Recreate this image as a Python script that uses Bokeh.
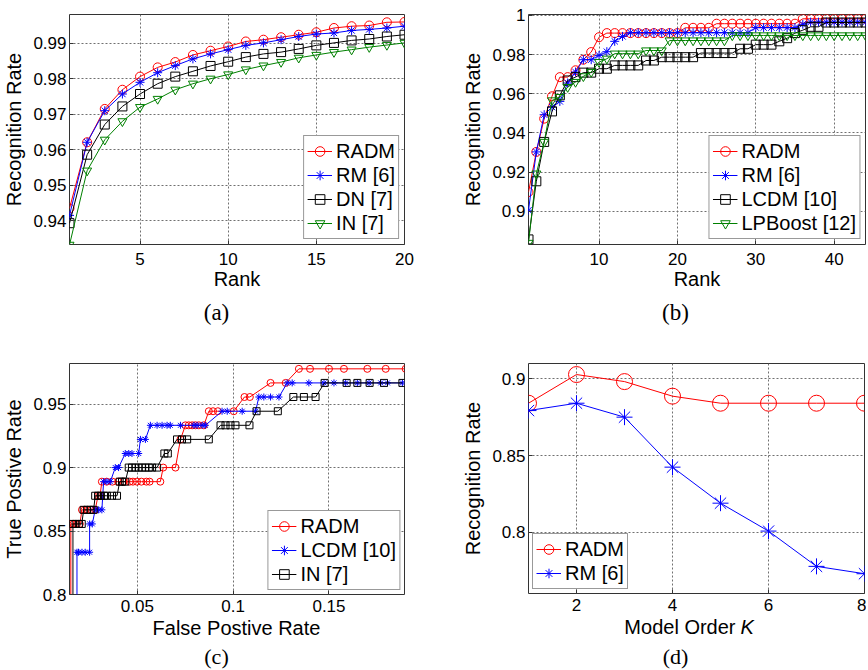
from bokeh.plotting import figure
from bokeh.layouts import column, row
from bokeh.models import Range1d, FixedTicker, CustomJSTickFormatter, Label
from bokeh.embed import file_html
from bokeh.resources import INLINE

FONT = "Liberation Sans"
SERIF = "Liberation Serif"
RED, BLUE, BLACK, GREEN = "#ff0000", "#0000ff", "#000000", "#008000"

# ---------------- (a) data ----------------
a_rank = [1, 2, 3, 4, 5, 6, 7, 8, 9, 10, 11, 12, 13, 14, 15, 16, 17, 18, 19, 20]
a_radm = [0.9435, 0.9621, 0.9715, 0.9769, 0.9806, 0.9832, 0.9847, 0.9867, 0.9879, 0.9891,
          0.9905, 0.9910, 0.9917, 0.9924, 0.9931, 0.9943, 0.9948, 0.9950, 0.9959, 0.9960]
a_rm = [0.9415, 0.9621, 0.9710, 0.9757, 0.9790, 0.9817, 0.9837, 0.9856, 0.9870, 0.9882,
        0.9894, 0.9901, 0.9910, 0.9919, 0.9926, 0.9929, 0.9936, 0.9939, 0.9943, 0.9948]
a_dn = [0.9393, 0.9586, 0.9671, 0.9722, 0.9757, 0.9786, 0.9806, 0.9821, 0.9836, 0.9848,
        0.9861, 0.9870, 0.9875, 0.9884, 0.9894, 0.9901, 0.9908, 0.9912, 0.9919, 0.9924]
a_in = [0.9332, 0.9541, 0.9628, 0.9680, 0.9720, 0.9743, 0.9769, 0.9786, 0.9800, 0.9812,
        0.9826, 0.9837, 0.9847, 0.9859, 0.9867, 0.9875, 0.9882, 0.9889, 0.9895, 0.9901]
a_xticks = [5, 10, 15, 20]
a_xlabels = ["5", "10", "15", "20"]
a_yticks = [0.94, 0.95, 0.96, 0.97, 0.98, 0.99]
a_ylabels = ["0.94", "0.95", "0.96", "0.97", "0.98", "0.99"]

# ---------------- (b) data ----------------
b_rank = list(range(1, 45))
b_radm = [0.9098, 0.9303, 0.9473, 0.9587, 0.9685, 0.9685, 0.9720, 0.9774, 0.9813, 0.9889,
          0.9910, 0.9910, 0.9910, 0.9910, 0.9910, 0.9910, 0.9910, 0.9910, 0.9910, 0.9910,
          0.9937, 0.9937, 0.9937, 0.9937,
          0.9958, 0.9958, 0.9958, 0.9958, 0.9958, 0.9958, 0.9958, 0.9958, 0.9958, 0.9958, 0.9958,
          0.9983, 0.9983, 0.9983, 0.9983, 0.9983, 0.9983, 0.9983, 0.9983, 0.9983]
b_rm = [0.9005, 0.9303, 0.9493, 0.9532, 0.9561, 0.9655, 0.9711, 0.9774, 0.9774, 0.9796,
        0.9815, 0.9868, 0.9893,
        0.9912, 0.9912, 0.9912, 0.9912, 0.9912, 0.9912, 0.9912, 0.9912, 0.9912, 0.9912,
        0.9912, 0.9912, 0.9912, 0.9912, 0.9912, 0.9912,
        0.9938, 0.9938, 0.9938, 0.9938, 0.9938, 0.9938,
        0.9955,
        0.9966, 0.9966, 0.9966, 0.9966, 0.9966, 0.9966, 0.9966, 0.9966]
b_lcdm = [0.8856, 0.9153, 0.9354, 0.9510, 0.9592, 0.9668, 0.9685, 0.9708, 0.9708, 0.9728,
          0.9728, 0.9745, 0.9745, 0.9745, 0.9745, 0.9770, 0.9770, 0.9787, 0.9787, 0.9787,
          0.9787, 0.9787, 0.9808, 0.9808, 0.9808, 0.9808, 0.9808, 0.9830, 0.9830, 0.9851,
          0.9851, 0.9851, 0.9868, 0.9884, 0.9910, 0.9925, 0.9942, 0.9942,
          0.9964, 0.9964, 0.9964, 0.9964, 0.9964, 0.9964]
b_lpb = [0.8838, 0.9192, 0.9354, 0.9566, 0.9583, 0.9634, 0.9660, 0.9689, 0.9711, 0.9762,
         0.9779, 0.9805, 0.9805, 0.9805, 0.9805, 0.9821, 0.9821, 0.9821,
         0.9872, 0.9872, 0.9872, 0.9872, 0.9872, 0.9872, 0.9872, 0.9872,
         0.9898, 0.9898, 0.9898, 0.9898, 0.9898, 0.9898, 0.9898, 0.9898, 0.9898,
         0.9898, 0.9898, 0.9898, 0.9898, 0.9898, 0.9898, 0.9898, 0.9898, 0.9898]
b_xticks = [10, 20, 30, 40]
b_xlabels = ["10", "20", "30", "40"]
b_yticks = [0.9, 0.92, 0.94, 0.96, 0.98, 1.0]
b_ylabels = ["0.9", "0.92", "0.94", "0.96", "0.98", "1"]

# ---------------- (c) data ----------------
c_radm_fpr = [0.0153, 0.0153, 0.0167, 0.0185, 0.0200, 0.0211, 0.0225, 0.0240, 0.0260, 0.0280,
              0.0295, 0.0305, 0.0315, 0.0340, 0.0370, 0.0400, 0.0430, 0.0460, 0.0477, 0.0498,
              0.0521, 0.0547, 0.0564, 0.0620, 0.0635, 0.0699, 0.0725, 0.0751, 0.0768, 0.0786,
              0.0803, 0.0821, 0.0847, 0.0873, 0.0895, 0.0920, 0.1003, 0.1059, 0.1087, 0.1195,
              0.1274, 0.1343, 0.1401, 0.1500, 0.1578, 0.1700, 0.1796, 0.1900]
c_radm_tpr = [0.7556, 0.8556, 0.8556, 0.8556, 0.8556, 0.8667, 0.8667, 0.8667, 0.8667, 0.8667,
              0.8778, 0.8778, 0.8889, 0.8889, 0.8889, 0.8889, 0.8889, 0.8889, 0.8889, 0.8889,
              0.8889, 0.8889, 0.8889, 0.8889, 0.9000, 0.9000, 0.9222, 0.9333, 0.9333, 0.9333,
              0.9333, 0.9333, 0.9333, 0.9444, 0.9444, 0.9444, 0.9444, 0.9556, 0.9556, 0.9667,
              0.9667, 0.9778, 0.9778, 0.9778, 0.9778, 0.9778, 0.9778, 0.9778]
c_lcdm_fpr = [0.0185, 0.0185, 0.0193, 0.0211, 0.0228, 0.0251, 0.0251, 0.0265, 0.0280, 0.0298,
              0.0315, 0.0324, 0.0341, 0.0359, 0.0385, 0.0402, 0.0437, 0.0455, 0.0472, 0.0507,
              0.0516, 0.0542, 0.0568, 0.0603, 0.0629, 0.0655, 0.0672, 0.0725, 0.0795, 0.0812,
              0.0838, 0.0855, 0.0942, 0.0969, 0.1047, 0.1117, 0.1134, 0.1160, 0.1195, 0.1239,
              0.1282, 0.1308, 0.1395, 0.1474, 0.1526, 0.1587, 0.1648, 0.1709, 0.1770, 0.1805,
              0.1883]
c_lcdm_tpr = [0.7556, 0.8333, 0.8333, 0.8333, 0.8333, 0.8333, 0.8556, 0.8556, 0.8667, 0.8667,
              0.8667, 0.8889, 0.8889, 0.8889, 0.9000, 0.9000, 0.9111, 0.9111, 0.9111, 0.9111,
              0.9222, 0.9222, 0.9333, 0.9333, 0.9333, 0.9333, 0.9333, 0.9333, 0.9333, 0.9333,
              0.9333, 0.9333, 0.9444, 0.9444, 0.9444, 0.9444, 0.9556, 0.9556, 0.9556, 0.9556,
              0.9667, 0.9667, 0.9667, 0.9667, 0.9667, 0.9667, 0.9667, 0.9667, 0.9667, 0.9667,
              0.9667]
c_in_fpr = [0.0164, 0.0164, 0.0178, 0.0195, 0.0210, 0.0220, 0.0238, 0.0256, 0.0272, 0.0280,
            0.0295, 0.0310, 0.0326, 0.0341, 0.0368, 0.0394, 0.0408, 0.0420, 0.0437, 0.0455,
            0.0472, 0.0490, 0.0507, 0.0525, 0.0542, 0.0560, 0.0577, 0.0603, 0.0641, 0.0659,
            0.0707, 0.0733, 0.0760, 0.0873, 0.0934, 0.0960, 0.0986, 0.1012, 0.1085, 0.1122,
            0.1233, 0.1314, 0.1369, 0.1430, 0.1477, 0.1592, 0.1648, 0.1712, 0.1787, 0.1883]
c_in_tpr = [0.7556, 0.8556, 0.8556, 0.8556, 0.8556, 0.8667, 0.8667, 0.8667, 0.8667, 0.8778,
            0.8778, 0.8778, 0.8778, 0.8778, 0.8778, 0.8778, 0.8889, 0.8889, 0.8889, 0.9000,
            0.9000, 0.9000, 0.9000, 0.9000, 0.9000, 0.9000, 0.9000, 0.9000, 0.9111, 0.9111,
            0.9222, 0.9222, 0.9222, 0.9222, 0.9333, 0.9333, 0.9333, 0.9333, 0.9333, 0.9444,
            0.9444, 0.9556, 0.9556, 0.9556, 0.9667, 0.9667, 0.9667, 0.9667, 0.9667, 0.9667]
c_xticks = [0.05, 0.1, 0.15]
c_xlabels = ["0.05", "0.1", "0.15"]
c_yticks = [0.8, 0.85, 0.9, 0.95]
c_ylabels = ["0.8", "0.85", "0.9", "0.95"]

# ---------------- (d) data ----------------
d_k = [1, 2, 3, 4, 5, 6, 7, 8]
d_radm = [0.8841, 0.9028, 0.8982, 0.8887, 0.8841, 0.8841, 0.8841, 0.8841]
d_rm = [0.8793, 0.8841, 0.8750, 0.8424, 0.8189, 0.8007, 0.7777, 0.7729]
d_xticks = [2, 4, 6, 8]
d_xlabels = ["2", "4", "6", "8"]
d_yticks = [0.8, 0.85, 0.9]
d_ylabels = ["0.8", "0.85", "0.9"]

captions_top = ["(a)", "(b)"]
captions_bottom = ["(c)", "(d)"]
c_xtitle = "False Postive Rate"
d_xtitle = "Model Order"
d_xtitle_var = "K"

FMT = ("for (let i = 0; i < t.length; i++) { if (Math.abs(t[i] - tick) < 1e-9) return l[i]; }"
       " return '';")

TOTAL_W = 866


def make_fig(fw, fh, bl, br, bt, bb, xr, yr, xt, xl, yt, yl, xlabel, ylabel, xstand):
    p = figure(frame_width=fw, frame_height=fh, min_border_left=bl, min_border_right=br,
               min_border_top=bt, min_border_bottom=bb, x_range=Range1d(*xr),
               y_range=Range1d(*yr), output_backend="svg", toolbar_location=None, tools="")
    p.xaxis.ticker = FixedTicker(ticks=xt)
    p.yaxis.ticker = FixedTicker(ticks=yt)
    p.xaxis.formatter = CustomJSTickFormatter(args=dict(t=xt, l=xl), code=FMT)
    p.yaxis.formatter = CustomJSTickFormatter(args=dict(t=yt, l=yl), code=FMT)
    p.xaxis.axis_label = xlabel
    p.yaxis.axis_label = ylabel
    for ax in (p.xaxis[0], p.yaxis[0]):
        ax.major_label_text_font = FONT
        ax.major_label_text_font_size = "17px"
        ax.major_label_text_color = "#000000"
        ax.axis_label_text_font = FONT
        ax.axis_label_text_font_size = "20px"
        ax.axis_label_text_font_style = "normal"
        ax.axis_label_text_color = "#000000"
        ax.axis_line_color = None
        ax.major_tick_in = 4
        ax.major_tick_out = 0
        ax.major_tick_line_color = "#333333"
        ax.minor_tick_line_color = None
    p.xaxis.axis_label_standoff = 0
    p.xaxis.major_label_standoff = xstand
    p.yaxis.axis_label_standoff = 5
    p.yaxis.major_label_standoff = 3
    p.outline_line_color = "#333333"
    p.outline_line_width = 1
    p.outline_line_alpha = 1
    p.grid.grid_line_color = "#707070"
    p.grid.grid_line_dash = "2 2"
    p.grid.grid_line_width = 1
    p.background_fill_color = "#ffffff"
    p.border_fill_color = "#ffffff"
    return p


def style_legend(p, loc, margin):
    lg = p.legend[0]
    lg.location = loc
    lg.margin = margin
    lg.label_text_font = FONT
    lg.label_text_font_size = "20px"
    lg.label_text_color = "#000000"
    lg.padding = 3
    lg.spacing = 0
    lg.glyph_width = 25
    lg.glyph_height = 24
    lg.label_height = 24
    lg.label_standoff = 4
    lg.border_line_color = "#333333"
    lg.border_line_width = 1
    lg.background_fill_color = "#ffffff"
    lg.background_fill_alpha = 1


def strip(height, transparent=False):
    s = figure(width=TOTAL_W, height=height, x_range=Range1d(0, TOTAL_W),
               y_range=Range1d(0, height), x_axis_type=None, y_axis_type=None, min_border=0,
               output_backend="svg", toolbar_location=None, tools="")
    s.outline_line_color = None
    s.background_fill_color = "#ffffff"
    s.border_fill_color = "#ffffff"
    if transparent:
        s.background_fill_alpha = 0
        s.border_fill_alpha = 0
    return s


def add_text(s, text, x, y, font, size, align="center", style="normal"):
    s.add_layout(Label(x=x, y=y, x_units="screen", y_units="screen", text=text,
                       text_font=font, text_font_size=size, text_align=align,
                       text_baseline="middle", text_font_style=style, text_color="#000000"))


# ---------------- panel (a) ----------------
pa = make_fig(335, 230, 69, 30, 14, 53, (1, 20), (0.9333, 0.9981),
              a_xticks, a_xlabels, a_yticks, a_ylabels, "Rank", "Recognition Rate", 8)
series_a = [("RADM", a_radm, RED, "circle"), ("RM [6]", a_rm, BLUE, "asterisk"),
            ("DN [7]", a_dn, BLACK, "square"), ("IN [7]", a_in, GREEN, "inverted_triangle")]
for name, ys, col, mk in series_a:
    pa.line(a_rank, ys, line_color=col, line_width=1, legend_label=name)
    pa.scatter(a_rank, ys, marker=mk, size=9, line_color=col, fill_color=None,
               line_width=1, legend_label=name)
style_legend(pa, "bottom_right", 5)

# ---------------- panel (b) ----------------
pb = make_fig(337, 230, 94, 1, 14, 53, (1, 44), (0.883, 1.0005),
              b_xticks, b_xlabels, b_yticks, b_ylabels, "Rank", "Recognition Rate", 8)
series_b = [("RADM", b_radm, RED, "circle"), ("RM [6]", b_rm, BLUE, "asterisk"),
            ("LCDM [10]", b_lcdm, BLACK, "square"), ("LPBoost [12]", b_lpb, GREEN, "inverted_triangle")]
for name, ys, col, mk in series_b:
    pb.line(b_rank, ys, line_color=col, line_width=1, legend_label=name)
    pb.scatter(b_rank, ys, marker=mk, size=9, line_color=col, fill_color=None,
               line_width=1, legend_label=name)
style_legend(pb, "bottom_right", 5)

# ---------------- panel (c) ----------------
pc = make_fig(335, 231, 69, 30, 28, 25, (0.0146, 0.1894), (0.8, 0.982),
              c_xticks, c_xlabels, c_yticks, c_ylabels, None, "True Postive Rate", 5)
series_c = [("RADM", c_radm_fpr, c_radm_tpr, RED, "circle"),
            ("LCDM [10]", c_lcdm_fpr, c_lcdm_tpr, BLUE, "asterisk"),
            ("IN [7]", c_in_fpr, c_in_tpr, BLACK, "square")]
for name, xs, ys, col, mk in series_c:
    pc.line(xs, ys, line_color=col, line_width=1, legend_label=name)
    pc.scatter(xs, ys, marker=mk, size=7, line_color=col, fill_color=None,
               line_width=1, legend_label=name)
style_legend(pc, "bottom_right", 4)

# ---------------- panel (d) ----------------
pd_ = make_fig(336, 230, 94, 2, 28, 26, (1, 8), (0.76, 0.91),
               d_xticks, d_xlabels, d_yticks, d_ylabels, None, "Recognition Rate", 5)
series_d = [("RADM", d_radm, RED, "circle"), ("RM [6]", d_rm, BLUE, "asterisk")]
for name, ys, col, mk in series_d:
    pd_.line(d_k, ys, line_color=col, line_width=1, legend_label=name)
    pd_.scatter(d_k, ys, marker=mk, size=16, line_color=col, fill_color=None,
                line_width=1, legend_label=name)
style_legend(pd_, "bottom_left", 4)

# caption strip under the top row (page y 297..335)
cap1 = strip(38)
add_text(cap1, captions_top[0], 216, 23, SERIF, "23px")
add_text(cap1, captions_top[1], 675, 23, SERIF, "23px")

# transparent strip overlapping the bottom row's lower border (page y 609..670):
# x-axis titles of (c) and (d) and the two captions
cap2 = strip(61, transparent=True)
cap2.margin = (-10, 0, 0, 0)
add_text(cap2, c_xtitle, 236, 43, FONT, "20px")
add_text(cap2, d_xtitle, 735, 44, FONT, "20px", align="right")
add_text(cap2, d_xtitle_var, 740, 44, FONT, "20px", align="left", style="italic")
add_text(cap2, captions_bottom[0], 216, 14, SERIF, "22px")
add_text(cap2, captions_bottom[1], 675, 14, SERIF, "22px")

layout = column(row(pa, pb), cap1, row(pc, pd_), cap2)

with open("out.html", "w") as f:
    f.write(file_html(layout, INLINE))
